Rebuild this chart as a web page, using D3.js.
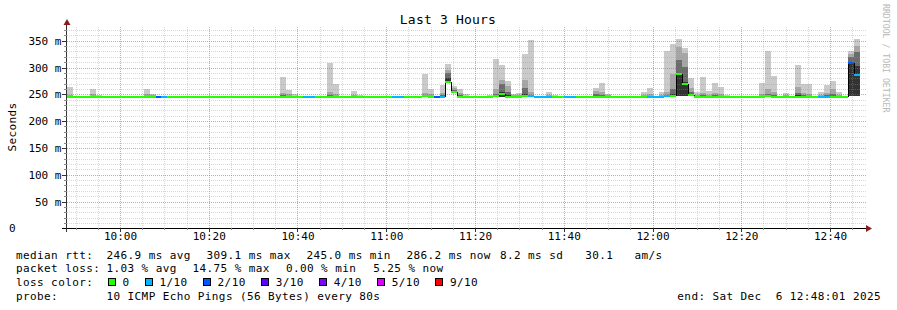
<!DOCTYPE html>
<html>
<head>
<meta charset="utf-8">
<script src="https://cdn.jsdelivr.net/npm/d3@7"></script>
<style>
  body { margin: 0; background: #fff; }
  svg text { font-family: "DejaVu Sans Mono", monospace; white-space: pre; fill: #000; }
</style>
</head>
<body>
<div id="chart"></div>
<script>
// smokeping style graph: median rtt coloured by packet loss, grey "smoke" = ping spread

const width = 897,
    height = 310;

// time window and step of the rrd
const startTime = new Date(2025, 11, 6, 9, 48, 1);
const endTime = new Date(2025, 11, 6, 12, 48, 1);
const stepSeconds = 80;

// median rtt per step (ms), null = no data yet
const median = [
  245.6, 245.5, 245.4, 245.5, 245.7, 245.5, 245.4, 245.5, 245.5, 245.6,
  245.5, 245.4, 245.5, 245.6, 245.5, 245.8, 245.7, 245.5, 245.4, 245.5,
  245.5, 245.4, 245.5, 245.5, 245.6, 245.5, 245.4, 245.5, 245.5, 245.4,
  245.5, 245.5, 245.6, 245.5, 245.4, 245.5, 245.7, 245.6, 245.5, 245.5,
  245.6, 245.7, 245.5, 245.4, 245.8, 245.6, 245.5, 245.5, 245.6, 245.5,
  245.4, 245.5, 245.5, 245.4, 245.5, 245.6, 245.6, 245.5, 245.5, 245.4,
  245.9, 245.6, 245.7, 245.8, 273.0, 255.0, 245.6, 245.5, 245.5, 245.4,
  245.5, 245.6, 245.9, 250.5, 245.8, 245.5, 245.5, 246.0, 246.2, 245.6,
  245.5, 245.6, 245.5, 245.4, 245.5, 245.6, 245.5, 245.4, 245.5, 245.7,
  245.8, 245.5, 245.4, 245.5, 245.5, 245.4, 245.5, 245.6, 245.6, 245.5,
  245.6, 245.9, 246.0, 288.0, 270.0, 249.5, 245.6, 245.8, 245.5, 245.7,
  245.6, 245.5, 245.4, 245.5, 245.5, 245.4, 245.5, 245.6, 246.0, 245.7,
  245.5, 245.5, 245.4, 245.8, 245.6, 245.6, 245.5, 245.6, 245.7, 245.8,
  245.6, 245.5, 308.0, 286.2, null
];

// lost pings out of 10 per step
const loss = [
  0, 0, 0, 0, 0, 0, 0, 0, 0, 0,
  0, 0, 0, 0, 0, 2, 1, 0, 0, 0,
  0, 0, 0, 0, 0, 0, 0, 0, 0, 0,
  0, 0, 0, 0, 0, 0, 0, 0, 0, 0,
  1, 1, 0, 0, 0, 0, 0, 0, 0, 0,
  0, 0, 0, 0, 0, 1, 1, 0, 0, 0,
  0, 0, 2, 1, 0, 0, 0, 0, 0, 0,
  0, 0, 0, 0, 0, 0, 0, 0, 1, 1,
  1, 1, 0, 0, 1, 1, 0, 0, 0, 0,
  0, 0, 0, 0, 0, 0, 0, 0, 1, 1,
  1, 1, 0, 0, 0, 0, 0, 0, 0, 0,
  0, 0, 0, 0, 0, 0, 0, 0, 0, 0,
  0, 0, 0, 0, 0, 0, 0, 1, 1, 0,
  0, 0, 2, 1, null
];

// smoke: steps with a visible spread, lowest ping and the upper edge of each band (ms)
const smokeStep = [0, 4, 5, 13, 14, 36, 37, 38, 44, 45, 48, 49, 60, 61, 63, 64, 65, 66, 67, 71,
  72, 73, 74, 75, 76, 77, 78, 81, 82, 89, 90, 91, 97, 98, 100, 101, 102, 103, 104, 105,
  106, 107, 108, 109, 110, 111, 117, 118, 119, 121, 123, 124, 125, 127, 128, 129, 130, 132, 133];
const smokeMin = [245, 245, 245, 245, 245, 245, 245, 245, 245, 245, 245, 245, 245, 245, 245, 271, 254, 245, 245, 245,
  245, 245, 245, 245, 245, 245, 245, 245, 245, 245, 245, 245, 245, 245, 245, 245, 245, 246, 247, 248,
  245, 245, 245, 245, 245, 245, 245, 245, 245, 245, 245, 245, 245, 245, 245, 245, 245, 246, 247];
const smokeMax = [263, 259, 249, 259, 251, 283, 258, 250, 308, 269, 256, 249, 288, 259, 268, 307, 266, 260, 250, 249,
  315, 305, 274, 251, 252, 326, 352, 254, 249, 262, 272, 251, 255, 261, 255, 331, 343, 353, 336, 280,
  255, 282, 257, 272, 263, 248, 272, 331, 284, 252, 304, 269, 270, 255, 268, 274, 254, 331, 354];
const smokeP2 = [249, 250, 247, 250, 248, 252, 250, 247, 255, 250, 249, 247, 252, 250, 252, 296, 262, 252, 247, 247,
  260, 277, 266, 248, 248, 277, 254, 249, 247, 256, 255, 248, 249, 250, 249, 255, 288, 338, 327, 262,
  249, 252, 249, 252, 250, 247, 250, 259, 255, 248, 264, 252, 250, 249, 252, 259, 248, 326, 340];
const smokeP3 = [247, 247, 246, 247, 246, 248, 247, 246, 248, 247, 247, 246, 248, 247, 248, 289, 258, 248, 246, 246,
  250, 269, 255, 246, 246, 262, 249, 247, 246, 250, 249, 246, 247, 247, 247, 249, 260, 314, 301, 255,
  247, 248, 247, 248, 247, 246, 247, 250, 249, 246, 252, 248, 247, 247, 248, 250, 246, 320, 328];
const smokeP4 = [246, 246, 246, 246, 246, 246, 246, 246, 246, 246, 246, 246, 246, 246, 246, 280, 256, 246, 246, 246,
  247, 255, 248, 246, 246, 250, 247, 246, 246, 247, 247, 246, 246, 246, 246, 247, 250, 289, 273, 251,
  246, 246, 246, 246, 246, 246, 246, 247, 247, 246, 248, 246, 246, 246, 246, 247, 246, 310, 303];

// axis values
const yTicks = [0, 50, 100, 150, 200, 250, 300, 350];
const yTickLabels = ["0", "50 m", "100 m", "150 m", "200 m", "250 m", "300 m", "350 m"];

// legend
const lossLevels = ["0", "1/10", "2/10", "3/10", "4/10", "5/10", "9/10"];
const lossColors = ["#26ff00", "#00b8ff", "#0059ff", "#5e00ff", "#7e00ff", "#dd00ff", "#ff0000"];
const rttStats = ["246.9 ms avg", "309.1 ms max", "245.0 ms min", "286.2 ms now", "8.2 ms sd", "30.1   am/s"];
const lossStats = ["1.03 % avg", "14.75 % max", "0.00 % min", "5.25 % now"];
const probeText = "10 ICMP Echo Pings (56 Bytes) every 80s";
const endText = "end: Sat Dec  6 12:48:01 2025";

const svg = d3.select("#chart")
  .append("svg")
    .attr("width", width)
    .attr("height", height);

svg.append("rect").attr("width", width).attr("height", height).attr("fill", "#fff");

const x = d3.scaleTime().domain([startTime, endTime]).range([66.8, 865.6]);
const y = d3.scaleLinear().domain([0, 375]).range([228.3, 27.3]);

const stepStart = i => new Date(startTime.getTime() + i * stepSeconds * 1000);
const smokeGreys = ["#cacaca", "#a6a6a6", "#6c6c6c", "#333333"];
const smokeBands = [smokeMax, smokeP2, smokeP3, smokeP4];

// smoke, lightest band first
const smoke = svg.append("g").attr("shape-rendering", "crispEdges");
smokeBands.forEach((band, b) => {
  smoke.selectAll(null)
    .data(smokeStep)
    .join("rect")
      .attr("x", i => x(stepStart(i)))
      .attr("width", i => x(stepStart(i + 1)) - x(stepStart(i)))
      .attr("y", (i, k) => y(band[k]))
      .attr("height", (i, k) => y(smokeMin[k]) - y(band[k]))
      .attr("fill", smokeGreys[b]);
});

// grid on top of the smoke (translucent, like rrdtool)
const grid = svg.append("g").attr("shape-rendering", "crispEdges")
  .attr("stroke-dasharray", "1,1").attr("stroke-width", 1);
const minorY = d3.range(10, 375, 10).filter(v => v % 50 !== 0);
const majorY = yTicks.filter(v => v > 0);
const minorX = d3.timeMinute.every(5).range(startTime, endTime).filter(t => t.getMinutes() % 20 !== 0);
const majorX = d3.timeMinute.every(20).range(startTime, endTime);
const minorStroke = "rgba(150,150,150,0.38)";
const majorStroke = "rgba(240,60,60,0.55)";

grid.selectAll(null).data(minorY).join("line")
  .attr("x1", 67).attr("x2", 866)
  .attr("y1", v => Math.round(y(v)) + 0.5).attr("y2", v => Math.round(y(v)) + 0.5)
  .attr("stroke", minorStroke);
grid.selectAll(null).data(minorX).join("line")
  .attr("y1", 27).attr("y2", 228)
  .attr("x1", t => Math.round(x(t)) + 0.5).attr("x2", t => Math.round(x(t)) + 0.5)
  .attr("stroke", minorStroke);
grid.selectAll(null).data(majorY).join("line")
  .attr("x1", 67).attr("x2", 866)
  .attr("y1", v => Math.round(y(v)) + 0.5).attr("y2", v => Math.round(y(v)) + 0.5)
  .attr("stroke", majorStroke);
grid.selectAll(null).data(majorX).join("line")
  .attr("y1", 27).attr("y2", 228)
  .attr("x1", t => Math.round(x(t)) + 0.5).attr("x2", t => Math.round(x(t)) + 0.5)
  .attr("stroke", majorStroke);

// median: black risers between steps, then loss coloured treads
const steps = d3.range(median.length).filter(i => median[i] !== null);
const lines = svg.append("g").attr("shape-rendering", "crispEdges");
lines.selectAll(null)
  .data(steps.filter(i => i > 0 && median[i - 1] !== null))
  .join("line")
    .attr("x1", i => Math.round(x(stepStart(i))) + 0.5)
    .attr("x2", i => Math.round(x(stepStart(i))) + 0.5)
    .attr("y1", i => y(median[i - 1]))
    .attr("y2", i => y(median[i]))
    .attr("stroke", "#000")
    .attr("stroke-width", 1);

const lossColor = d3.scaleThreshold().domain([1, 2, 3, 4, 5, 9]).range(lossColors);
lines.selectAll(null)
  .data(steps)
  .join("line")
    .attr("x1", i => x(stepStart(i)))
    .attr("x2", i => x(stepStart(i + 1)))
    .attr("y1", i => y(median[i]))
    .attr("y2", i => y(median[i]))
    .attr("stroke", i => lossColor(loss[i]))
    .attr("stroke-width", 2);

// axes
const axes = svg.append("g").attr("shape-rendering", "crispEdges");
axes.append("line").attr("x1", 62).attr("x2", 867).attr("y1", 228.5).attr("y2", 228.5)
  .attr("stroke", "#000").attr("stroke-width", 1);
axes.append("line").attr("x1", 66.5).attr("x2", 66.5).attr("y1", 232).attr("y2", 24)
  .attr("stroke", "#333").attr("stroke-width", 1);
axes.selectAll(null).data(majorY).join("line")
  .attr("x1", 62).attr("x2", 67)
  .attr("y1", v => Math.round(y(v)) + 0.5).attr("y2", v => Math.round(y(v)) + 0.5)
  .attr("stroke", "#333");
axes.selectAll(null).data(minorY).join("line")
  .attr("x1", 64).attr("x2", 67)
  .attr("y1", v => Math.round(y(v)) + 0.5).attr("y2", v => Math.round(y(v)) + 0.5)
  .attr("stroke", "#888");
axes.selectAll(null).data(majorX).join("line")
  .attr("y1", 228).attr("y2", 232)
  .attr("x1", t => Math.round(x(t)) + 0.5).attr("x2", t => Math.round(x(t)) + 0.5)
  .attr("stroke", "#333");
axes.selectAll(null).data(minorX).join("line")
  .attr("y1", 228).attr("y2", 230)
  .attr("x1", t => Math.round(x(t)) + 0.5).attr("x2", t => Math.round(x(t)) + 0.5)
  .attr("stroke", "#888");

svg.append("path").attr("d", "M63.5,25 L67,19 L70.5,25 Z").attr("fill", "#8b1c1c");
svg.append("path").attr("d", "M866,225 L872,228.5 L866,232 Z").attr("fill", "#8b1c1c");

// tick labels
svg.selectAll(null).data(yTicks).join("text")
  .attr("x", v => v === 0 ? 9 : 61.5)
  .attr("y", v => y(v) + 4)
  .attr("text-anchor", v => v === 0 ? "start" : "end")
  .attr("font-size", 11)
  .text((v, i) => yTickLabels[i]);

svg.selectAll(null).data(majorX).join("text")
  .attr("x", t => x(t) + 0.5)
  .attr("y", 240)
  .attr("text-anchor", "middle")
  .attr("font-size", 11)
  .text(d3.timeFormat("%H:%M"));

svg.append("text")
  .attr("transform", "translate(15.5,127) rotate(-90)")
  .attr("text-anchor", "middle")
  .attr("font-size", 11)
  .attr("letter-spacing", 0.4)
  .text("Seconds");

svg.append("text")
  .attr("x", 448).attr("y", 24)
  .attr("text-anchor", "middle")
  .attr("font-size", 13)
  .attr("letter-spacing", 0.2)
  .text("Last 3 Hours");

svg.append("text")
  .attr("transform", "translate(882.5,4) rotate(90)")
  .attr("font-size", 8.2)
  .style("fill", "#b8b8b8")
  .text("RRDTOOL / TOBI OETIKER");

// legend block
const legend = svg.append("g").attr("font-size", 11).attr("letter-spacing", 0.4);
const rows = [258.5, 272.3, 286.2, 300];
const pitch = 7.02;

legend.append("text").attr("x", 16).attr("y", rows[0]).text("median rtt:");
const rttX = [106.5, 206.5, 306.5, 406.5, 500, 585.3];
legend.selectAll(null).data(rttStats).join("text")
  .attr("x", (d, i) => rttX[i]).attr("y", rows[0]).text(d => d);

legend.append("text").attr("x", 16).attr("y", rows[1]).text("packet loss:");
const lossX = [106.5, 192.5, 286, 373.3];
legend.selectAll(null).data(lossStats).join("text")
  .attr("x", (d, i) => lossX[i]).attr("y", rows[1]).text(d => d);

legend.append("text").attr("x", 16).attr("y", rows[2]).text("loss color:");
let sx = 108.5;
lossLevels.forEach((lab, i) => {
  legend.append("rect")
    .attr("x", sx).attr("y", 278.5).attr("width", 7).attr("height", 7)
    .attr("fill", lossColors[i]).attr("stroke", "#000").attr("stroke-width", 1)
    .attr("shape-rendering", "crispEdges");
  legend.append("text").attr("x", sx + 14).attr("y", rows[2]).text(lab);
  sx = sx + 14.5 + lab.length * pitch + 15.5;
});

legend.append("text").attr("x", 16).attr("y", rows[3]).text("probe:");
legend.append("text").attr("x", 106.5).attr("y", rows[3]).text(probeText);
legend.append("text").attr("x", 881).attr("y", rows[3]).attr("text-anchor", "end").text(endText);
</script>
</body>
</html>
